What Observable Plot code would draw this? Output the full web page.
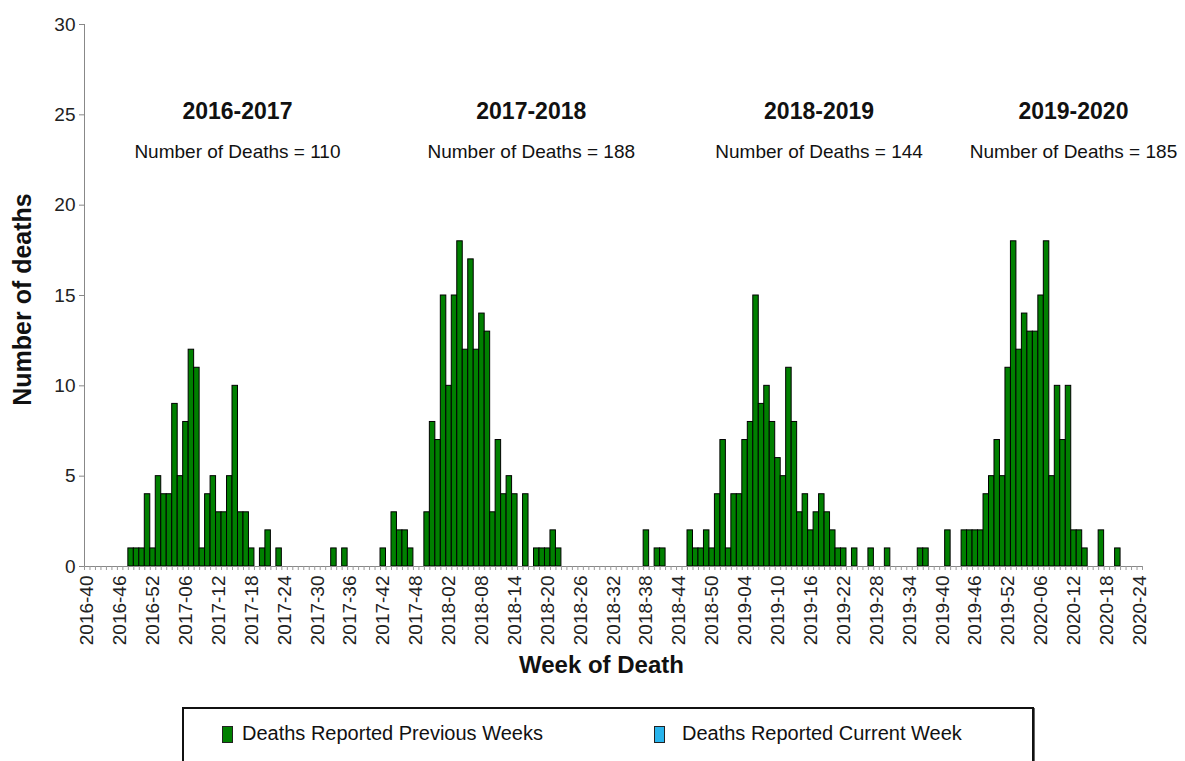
<!DOCTYPE html>
<html><head><meta charset="utf-8">
<script src="https://cdn.jsdelivr.net/npm/d3@7"></script>
<script src="https://cdn.jsdelivr.net/npm/@observablehq/plot@0.6"></script>
<style>
html,body{margin:0;padding:0;background:#fff;width:1185px;height:761px;overflow:hidden;font-family:"Liberation Sans",Arial,sans-serif;}
#wrap{position:relative;width:1185px;height:761px;}
#legend{position:absolute;left:182px;top:707px;width:852px;height:80px;border:2px solid #111;box-sizing:border-box;background:#fff;box-shadow:1px 1px 0 #666;}
.sw{position:absolute;top:17px;width:9px;height:15px;border:1px solid #222;}
.lt{position:absolute;top:13px;font-size:20px;color:#111;white-space:nowrap;}
</style></head><body>
<div id="wrap">
<div id="chart"></div>
<div id="legend">
  <div class="sw" style="left:38px;background:#008000;"></div>
  <div class="lt" style="left:58px;">Deaths Reported Previous Weeks</div>
  <div class="sw" style="left:470px;background:#29b4ec;"></div>
  <div class="lt" style="left:498px;">Deaths Reported Current Week</div>
</div>
</div>
<script>
// Week categories: [year, first week, last week]
const yearWeeks = [[2016, 40, 52], [2017, 1, 52], [2018, 1, 52], [2019, 1, 52], [2020, 1, 24]];
const weekLabels = yearWeeks.flatMap(([y, a, b]) => d3.range(a, b + 1).map(w => `${y}-${String(w).padStart(2, "0")}`));

// Deaths per week, by calendar year
const deaths2016 = [0,0,0,0,0,0,0,0,1,1,1,4,1];
const deaths2017 = [5,4,4,9,5,8,12,11,1,4, 5,3,3,5,10,3,3,1,0,1, 2,0,1,0,0,0,0,0,0,0, 0,0,1,0,1,0,0,0,0,0, 0,1,0,3,2,2,1,0,0,3, 8,7];
const deaths2018 = [15,10,15,18,12,17,12,14,13,3, 7,4,5,4,0,4,0,1,1,1, 2,1,0,0,0,0,0,0,0,0, 0,0,0,0,0,0,0,2,0,1, 1,0,0,0,0,2,1,1,2,1, 4,7];
const deaths2019 = [1,4,4,7,8,15,9,10,8,6, 5,11,8,3,4,2,3,4,3,2, 1,1,0,1,0,0,1,0,0,1, 0,0,0,0,0,1,1,0,0,0, 2,0,0,2,2,2,2,4,5,7, 5,11];
const deaths2020 = [18,12,14,13,13,15,18,5,10,7, 10,2,2,1,0,0,2,0,0,1, 0,0,0,0];
const allDeaths = [...deaths2016, ...deaths2017, ...deaths2018, ...deaths2019, ...deaths2020];

// Seasons
const seasonNames = ["2016-2017", "2017-2018", "2018-2019", "2019-2020"];
const seasonTotals = [110, 188, 144, 185];
const seasonLabelX = [27.9, 81.5, 134.0, 180.4]; // label anchor (week index)

const yTicks = [0, 5, 10, 15, 20, 25, 30];

const data = weekLabels.map((w, i) => ({i, week: w, deaths: allDeaths[i]})).filter(d => d.deaths > 0);
const labelTicks = d3.range(0, weekLabels.length, 6).map(i => i + 0.5);
const seasons = seasonNames.map((n, k) => ({name: n, total: seasonTotals[k], x: seasonLabelX[k]}));

const chart = Plot.plot({
  width: 1185, height: 690,
  marginLeft: 84, marginRight: 43, marginTop: 24, marginBottom: 124,
  style: {fontFamily: "Liberation Sans, Arial, sans-serif", background: "#fff", overflow: "visible", color: "#111"},
  x: {domain: [0, weekLabels.length], label: null},
  y: {domain: [0, 30], label: null},
  marks: [
    Plot.rectY(data, {x1: "i", x2: d => d.i + 1, y1: 0, y2: "deaths", fill: "#008000", stroke: "#000", strokeWidth: 1}),
    Plot.ruleY([0], {stroke: "#888"}),
    Plot.ruleX([0], {stroke: "#888"}),
    Plot.axisY({ticks: yTicks, tickSize: 5, tickPadding: 4, fontSize: 19, stroke: "#888", fill: "#222", label: null}),
    Plot.axisX({ticks: d3.range(0, weekLabels.length + 1), tickSize: 4, stroke: "#999", fill: "none", label: null}),
    Plot.axisX({ticks: labelTicks, tickFormat: d => weekLabels[Math.round(d - 0.5)], tickRotate: -90, tickSize: 0, tickPadding: 9, fontSize: 19, fill: "#222", label: null}),
    Plot.text(seasons, {x: "x", text: "name", frameAnchor: "top", dy: 78, fontSize: 23, fontWeight: "bold", fill: "#111"}),
    Plot.text(seasons, {x: "x", text: d => `Number of Deaths = ${d.total}`, frameAnchor: "top", dy: 120, fontSize: 19, fill: "#111"}),
    Plot.text(["Week of Death"], {text: d => d, frameAnchor: "bottom", dy: 106, dx: -12, fontSize: 24, fontWeight: "bold", fill: "#111"}),
    Plot.text(["Number of deaths"], {text: d => d, frameAnchor: "left", textAnchor: "middle", rotate: -90, dx: -62, dy: 4, fontSize: 25, fontWeight: "bold", fill: "#111"})
  ]
});
document.getElementById("chart").appendChild(chart);
</script>
</body></html>
